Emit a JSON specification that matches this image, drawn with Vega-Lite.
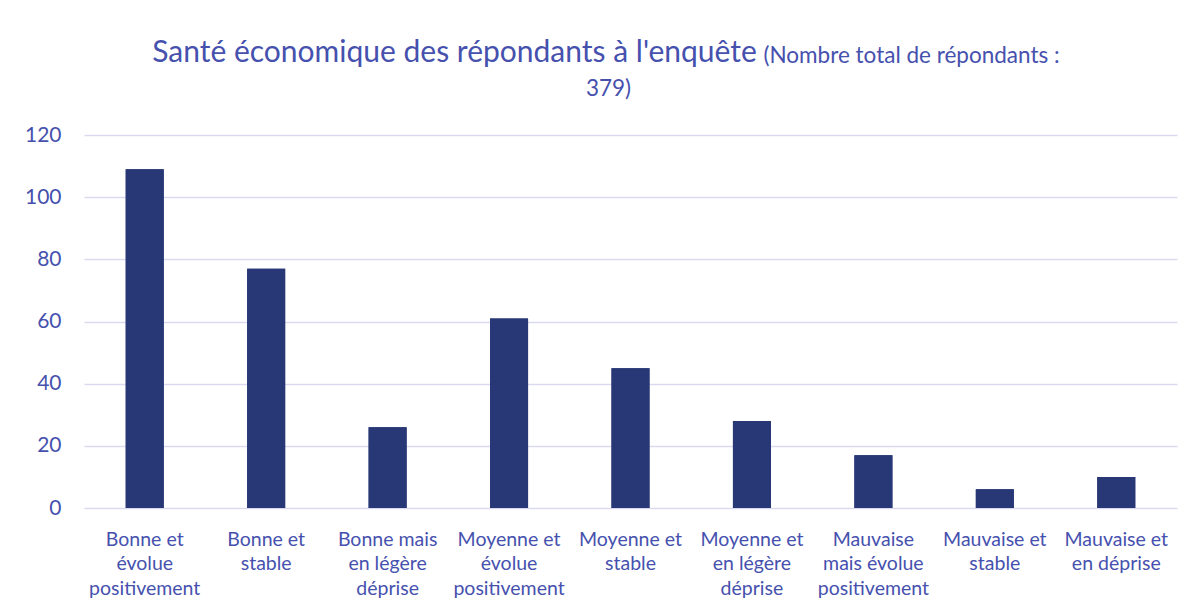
{
  "$schema": "https://vega.github.io/schema/vega-lite/v6.json",
  "width": 1093,
  "height": 373,
  "autosize": {"type": "none"},
  "padding": {"left": 84, "top": 135, "right": 17, "bottom": 102},
  "background": "#ffffff",
  "config": {"view": {"stroke": null}, "font": "Lato"},
  "title": {
    "text": "Santé économique des répondants à l'enquête",
    "frame": "group",
    "anchor": "middle",
    "dx": -176,
    "dy": 28,
    "font": "Lato",
    "fontSize": 30,
    "fontWeight": "normal",
    "color": "#4651ae"
  },
  "data": {
    "values": [
      {"categorie": "Bonne et\névolue\npositivement", "repondants": 109},
      {"categorie": "Bonne et\nstable", "repondants": 77},
      {"categorie": "Bonne mais\nen légère\ndéprise", "repondants": 26},
      {"categorie": "Moyenne et\névolue\npositivement", "repondants": 61},
      {"categorie": "Moyenne et\nstable", "repondants": 45},
      {"categorie": "Moyenne et\nen légère\ndéprise", "repondants": 28},
      {"categorie": "Mauvaise\nmais évolue\npositivement", "repondants": 17},
      {"categorie": "Mauvaise et\nstable", "repondants": 6},
      {"categorie": "Mauvaise et\nen déprise", "repondants": 10}
    ]
  },
  "layer": [
    {
      "mark": {"type": "bar", "color": "#283775"},
      "encoding": {
        "x": {
          "field": "categorie",
          "type": "nominal",
          "sort": null,
          "scale": {"paddingInner": 0.687, "paddingOuter": 0.3435},
          "axis": {
            "orient": "bottom",
            "title": null,
            "labelAngle": 0,
            "labelExpr": "split(datum.label, '\\n')",
            "labelFont": "Lato",
            "labelFontSize": 19.5,
            "labelColor": "#4651ae",
            "labelBaseline": "top",
            "labelPadding": 22,
            "labelLineHeight": 24.5,
            "labelLimit": 0,
            "ticks": false,
            "domain": false,
            "grid": false
          }
        },
        "y": {
          "field": "repondants",
          "type": "quantitative",
          "scale": {"domain": [0, 120]},
          "axis": {
            "values": [0, 20, 40, 60, 80, 100, 120],
            "labelFont": "Lato",
            "labelFontSize": 21,
            "labelColor": "#4651ae",
            "labelPadding": 23,
            "ticks": false,
            "domain": false,
            "grid": true,
            "gridColor": "#d9d9ef",
            "gridWidth": 1.5,
            "title": "(Nombre total de répondants :",
            "titleAngle": 0,
            "titleAlign": "left",
            "titleBaseline": "alphabetic",
            "titleX": 679,
            "titleY": -73,
            "titleFont": "Lato",
            "titleFontSize": 22.5,
            "titleFontWeight": "normal",
            "titleColor": "#4651ae"
          }
        }
      }
    },
    {
      "mark": {"type": "bar", "color": "#283775"},
      "encoding": {
        "x": {
          "field": "categorie",
          "type": "nominal",
          "sort": null,
          "axis": {
            "orient": "top",
            "labels": false,
            "ticks": false,
            "domain": false,
            "grid": false,
            "title": "379)",
            "titleAlign": "center",
            "titleBaseline": "alphabetic",
            "titleX": 524,
            "titleY": -40,
            "titleFont": "Lato",
            "titleFontSize": 22.5,
            "titleFontWeight": "normal",
            "titleColor": "#4651ae"
          }
        },
        "y": {"field": "repondants", "type": "quantitative"}
      }
    }
  ],
  "resolve": {"axis": {"x": "independent"}}
}
